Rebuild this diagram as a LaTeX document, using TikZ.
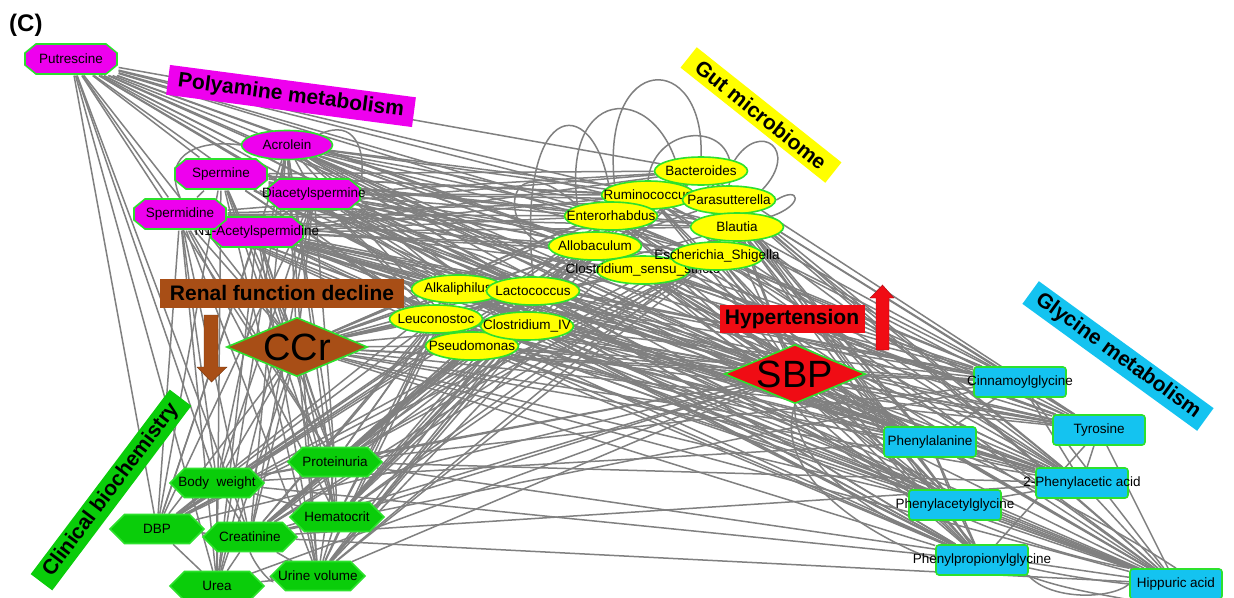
\documentclass[tikz,border=0pt]{standalone}
\usepackage{fontspec}
\setmainfont{Liberation Sans}
\usetikzlibrary{shapes.geometric,shapes.symbols}
\definecolor{ngreen}{RGB}{45,225,45}
\definecolor{mag}{RGB}{238,0,238}
\definecolor{yel}{RGB}{255,255,0}
\definecolor{cgreen}{RGB}{10,205,10}
\definecolor{cyn}{RGB}{20,195,240}
\definecolor{brn}{RGB}{168,78,22}
\definecolor{rd}{RGB}{240,12,20}
\definecolor{edgegray}{RGB}{128,128,128}
\newcommand{\zwtext}[1]{\makebox[0pt]{#1}}
\newcommand{\crossedges}[5]{%
  \foreach \a [count=\i] in {#1} {\foreach \b [count=\j] in {#2} {%
    \pgfmathtruncatemacro\r{mod(\i*#3+\j*7+\i*\j,#4)}%
    \ifnum\r<#5 \draw[edge] (\a) -- (\b);\fi}}}
\pgfdeclarelayer{bg}
\pgfdeclarelayer{edges}
\pgfsetlayers{bg,edges,main}
\begin{document}
\begin{tikzpicture}[x=1pt,y=-1pt,
  edge/.style={draw=edgegray,line width=1.5pt},
  base/.style={draw=ngreen,line width=1.6pt,inner sep=0pt,text=black,
    font=\fontsize{13.5}{14}\selectfont},
  oct/.style={base,draw=none,rectangle,minimum width=93.6pt,minimum height=31.6pt,
    path picture={\filldraw[fill=mag,draw=ngreen,line width=1.6pt]
      ([shift={(11.8pt,-0.8pt)}]path picture bounding box.north west) --
      ([shift={(-11.8pt,-0.8pt)}]path picture bounding box.north east) --
      ([shift={(-0.8pt,-9.8pt)}]path picture bounding box.north east) --
      ([shift={(-0.8pt,9.8pt)}]path picture bounding box.south east) --
      ([shift={(-11.8pt,0.8pt)}]path picture bounding box.south east) --
      ([shift={(11.8pt,0.8pt)}]path picture bounding box.south west) --
      ([shift={(0.8pt,9.8pt)}]path picture bounding box.south west) --
      ([shift={(0.8pt,-9.8pt)}]path picture bounding box.north west) -- cycle;}},
  ell/.style={base,fill=mag,ellipse,minimum width=91pt,minimum height=29pt},
  mic/.style={base,fill=yel,ellipse,minimum width=93pt,minimum height=28pt},
  hex/.style={base,fill=cgreen,draw=ngreen,signal,signal to=east and west,
    minimum width=94pt,minimum height=29pt},
  gly/.style={base,fill=cyn,rectangle,rounded corners=3pt,
    minimum width=92pt,minimum height=30pt},
  dia/.style={base,diamond,aspect=2.4,minimum width=141pt,minimum height=59pt,
    font=\fontsize{38}{38}\selectfont},
  lab/.style={inner sep=0pt,text=black,font=\fontsize{21}{21}\selectfont\bfseries},
]
\begin{pgfonlayer}{bg}
\fill[white] (0,0) rectangle (1234,597);
\end{pgfonlayer}
\useasboundingbox (0,0) rectangle (1234,597);

% panel letter
\node[anchor=west,inner sep=0pt,font=\fontsize{24}{24}\selectfont\bfseries] (panel) at (9,25) {(C)};

% polyamine metabolism
\node[oct] (nas) at (257,232) {\zwtext{N1-Acetylspermidine}};
\node[oct] (spd) at (180,214) {\zwtext{Spermidine}};
\node[oct] (dia) at (314,194) {\zwtext{Diacetylspermine}};
\node[oct] (spm) at (221,174) {\zwtext{Spermine}};
\node[ell] (acr) at (287,145) {\zwtext{Acrolein}};
\node[oct] (put) at (71,59) {\zwtext{Putrescine}};

% gut microbiome
\node[mic] (pse) at (472,346) {\zwtext{Pseudomonas}};
\node[mic] (leu) at (436,319) {\zwtext{Leuconostoc}};
\node[mic] (civ) at (527,326) {\zwtext{Clostridium\_IV}};
\node[mic] (alk) at (458,289) {\zwtext{Alkaliphilus}};
\node[mic] (lac) at (533,291) {\zwtext{Lactococcus}};
\node[mic] (cls) at (643,270) {\zwtext{Clostridium\_sensu\_stricto}};
\node[mic] (all) at (595,246) {\zwtext{Allobaculum}};
\node[mic] (esc) at (717,256) {\zwtext{Escherichia\_Shigella}};
\node[mic] (rum) at (648,195) {\zwtext{Ruminococcus}};
\node[mic] (bac) at (701,171) {\zwtext{Bacteroides}};
\node[mic] (ent) at (611,216) {\zwtext{Enterorhabdus}};
\node[mic] (par) at (729,200) {\zwtext{Parasutterella}};
\node[mic] (bla) at (737,227) {\zwtext{Blautia}};

% clinical biochemistry
\node[hex] (pro) at (335,462) {\zwtext{Proteinuria}};
\node[hex] (bw)  at (217,483) {\zwtext{Body~ weight}};
\node[hex] (hem) at (337,517) {\zwtext{Hematocrit}};
\node[hex] (dbp) at (157,529) {\zwtext{DBP}};
\node[hex] (cre) at (250,537) {\zwtext{Creatinine}};
\node[hex] (uv)  at (318,576) {\zwtext{Urine volume}};
\node[hex] (ure) at (217,586) {\zwtext{Urea}};

% glycine metabolism
\node[gly] (cin) at (1020,382) {\zwtext{Cinnamoylglycine}};
\node[gly] (tyr) at (1099,430) {\zwtext{Tyrosine}};
\node[gly] (phe) at (930,442) {\zwtext{Phenylalanine}};
\node[gly] (pac) at (1082,483) {\zwtext{2-Phenylacetic acid}};
\node[gly] (pag) at (955,505) {\zwtext{Phenylacetylglycine}};
\node[gly] (ppg) at (982,560) {\zwtext{Phenylpropionylglycine}};
\node[gly] (hip) at (1176,584) {\zwtext{Hippuric acid}};

% hubs
\node[dia,fill=brn] (ccr) at (297,347) {CCr};
\node[dia,fill=rd] (sbp) at (795,374) {SBP};

% group labels
\node[lab,fill=mag,rotate=-7.5,minimum width=248pt,minimum height=30pt] (lpoly) at (291,96) {Polyamine metabolism};
\node[lab,fill=yel,rotate=-38.5,minimum width=185pt,minimum height=26pt] (lgut) at (761,115) {Gut microbiome};
\node[lab,fill=cyn,rotate=-36,minimum width=216pt,minimum height=28pt] (lgly) at (1118,356) {Glycine metabolism};
\node[lab,fill=cgreen,rotate=53,minimum width=231pt,minimum height=27pt] (lcli) at (111,490) {Clinical biochemistry};
\node[lab,fill=brn,minimum width=244pt,minimum height=29pt] (lren) at (282,293) {Renal function decline};
\node[lab,fill=rd,minimum width=145pt,minimum height=28pt] (lhyp) at (792,319) {Hypertension};

% trend arrows
\fill[brn,draw=brn!70!black,line width=0.4pt] (204,315) -- (218,315) -- (218,367) -- (227,367) -- (211.5,382) -- (197,367) -- (204,367) -- cycle;
\fill[rd,draw=rd!70!black,line width=0.4pt] (876,350) -- (889,350) -- (889,298) -- (894,298) -- (882.5,285) -- (870,298) -- (876,298) -- cycle;

% connectors
\begin{pgfonlayer}{edges}
\crossedges{put,acr,spm,dia,spd,nas}{bac,rum,par,ent,bla,all,esc,cls,alk,lac,leu,civ,pse}{5}{5}{4}
\crossedges{put,acr,spm,dia,spd,nas}{cin,tyr,phe,pac,pag,ppg,hip}{3}{3}{2}
\crossedges{put,acr,spm,dia,spd,nas}{pro,bw,hem,dbp,cre,uv,ure}{2}{3}{2}
\crossedges{bac,rum,par,ent,bla,all,esc,cls,alk,lac,leu,civ,pse}{pro,bw,hem,dbp,cre,uv,ure}{3}{5}{4}
\crossedges{bac,rum,par,ent,bla,all,esc,cls,alk,lac,leu,civ,pse}{cin,tyr,phe,pac,pag,ppg,hip}{1}{5}{4}
\crossedges{pro,hem,bw,cre}{cin,tyr,phe,pac,pag,ppg,hip}{4}{3}{1}
\foreach \b in {put,acr,spm,dia,spd,nas,bac,rum,par,ent,bla,all,esc,cls,alk,lac,leu,civ,pse,pro,bw,hem,dbp,cre,uv,ure,cin,tyr,phe,pac,pag,ppg,hip,sbp}
  {\draw[edge] (ccr) -- (\b);}
\foreach \b in {put,acr,spm,dia,spd,nas,bac,rum,par,ent,bla,all,esc,cls,alk,lac,leu,civ,pse,pro,bw,hem,dbp,cre,uv,ure,cin,tyr,phe,pac,pag,ppg}
  {\draw[edge] (sbp) -- (\b);}
% within clinical biochemistry
\foreach \a/\b in {dbp/bw,dbp/cre,dbp/ure,bw/pro,bw/cre,bw/ure,cre/hem,cre/uv,cre/ure,pro/hem,hem/uv,ure/uv,pro/uv,bw/hem}
  {\draw[edge] (\a) -- (\b);}
% within glycine metabolism
\foreach \a/\b in {cin/tyr,cin/phe,cin/pac,cin/hip,tyr/pac,tyr/hip,phe/pag,phe/ppg,pac/hip,pag/hip,pag/ppg,pac/pag,phe/hip,tyr/ppg}
  {\draw[edge] (\a) -- (\b);}
% within polyamines
\foreach \a/\b in {put/acr,put/spm,put/spd,acr/spm,spm/spd,dia/nas,acr/dia}
  {\draw[edge] (\a) -- (\b);}
% curved connectors
\draw[edge] (rum.north west) .. controls (600,50) and (705,50) .. (bac.north);
\draw[edge] (ent.north west) .. controls (560,80) and (665,80) .. (rum.north east);
\draw[edge] (lac.north) .. controls (515,90) and (600,90) .. (ent.north);
\draw[edge] (rum.north) .. controls (655,120) and (745,120) .. (par.north);
\draw[edge] (bac.north east) .. controls (760,120) and (800,150) .. (par.north east);
\draw[edge] (par.east) .. controls (800,185) and (805,205) .. (bla.north east);
\draw[edge] (all.west) .. controls (495,230) and (505,140) .. (ent.north west);
\draw[edge] (acr.north east) .. controls (355,118) and (365,150) .. (dia.north east);
\draw[edge] (spd.north) .. controls (160,150) and (205,140) .. (acr.west);
\draw[edge] (ppg.south east) .. controls (1050,600) and (1110,600) .. (hip.west);
\draw[edge] (pag.south) .. controls (990,580) and (1080,590) .. (hip.south west);
\draw[edge] (cre.south) .. controls (260,575) and (280,590) .. (uv.west);
\draw[edge] (sbp.south) .. controls (790,470) and (900,560) .. (hip.west);
\draw[edge] (sbp.south) .. controls (830,460) and (980,540) .. (hip.north west);
\draw[edge] (sbp.south east) .. controls (900,430) and (1040,480) .. (hip.north);
\draw[edge] (sbp.south) .. controls (770,480) and (880,540) .. (ppg.west);
\end{pgfonlayer}
\end{tikzpicture}
\end{document}
